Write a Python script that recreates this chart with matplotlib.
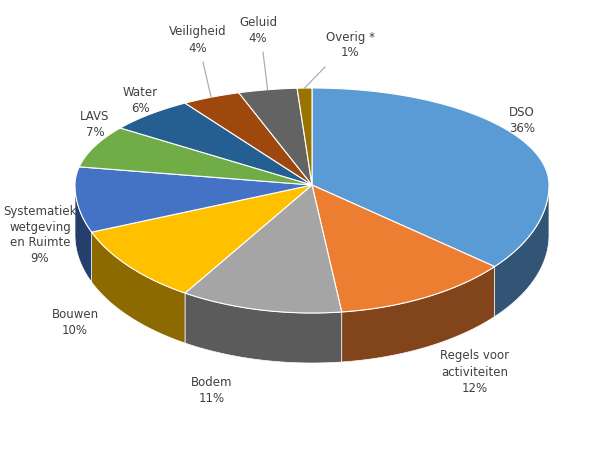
import numpy as np
import matplotlib.pyplot as plt
from matplotlib.patches import Polygon

labels = ["DSO", "Regels voor\nactiviteiten", "Bodem", "Bouwen", "Systematiek\nwetgeving\nen Ruimte",
          "LAVS", "Water", "Veiligheid", "Geluid", "Overig *"]
values = [36, 12, 11, 10, 9, 7, 6, 4, 4, 1]
colors = ["#5B9BD5", "#ED7D31", "#A5A5A5", "#FFC000", "#4472C4",
          "#70AD47", "#255E91", "#9E480E", "#636363", "#997300"]
# label anchor positions (pixels)
label_xy = [(522, 120), (475, 372), (212, 390), (75, 322), (40, 235),
            (95, 125), (140, 100), (198, 40), (258, 30), (350, 45)]


def darker(c, f):
    c = c.lstrip("#")
    rgb = [int(c[i:i + 2], 16) / 255 for i in (0, 2, 4)]
    return tuple(v * f for v in rgb)


cx, cy, rx, ry_back, ry_front, depth = 312, 185, 237, 97, 128, 50

fig = plt.figure(figsize=(6, 4.72), dpi=100)
ax = fig.add_axes([0, 0, 1, 1])
ax.set_xlim(0, 600)
ax.set_ylim(472, 0)
ax.axis("off")


def pt(t, dy=0):
    s = np.sin(np.radians(t))
    ry = ry_back if s > 0 else ry_front
    return cx + rx * np.cos(np.radians(t)), cy - ry * s + dy


total = sum(values)
start = 90.0
wedges = []
for v in values:
    end = start - 360.0 * v / total
    wedges.append((end, start))
    start = end

# side walls (front half only)
for (a0, a1), col in zip(wedges, colors):
    ts = np.linspace(a0, a1, 200)
    ts = ts[np.sin(np.radians(ts)) <= 0]
    if len(ts) < 2:
        continue
    top = [pt(t) for t in ts]
    bot = [pt(t, depth) for t in ts[::-1]]
    ax.add_patch(Polygon(top + bot, closed=True, facecolor=darker(col, 0.55),
                         edgecolor="white", linewidth=0.5, zorder=1))

# top faces
for (a0, a1), col in zip(wedges, colors):
    ts = np.linspace(a0, a1, 200)
    poly = [(cx, cy)] + [pt(t) for t in ts]
    ax.add_patch(Polygon(poly, closed=True, facecolor=col, edgecolor="white",
                         linewidth=0.8, zorder=2))

# labels
for (a0, a1), lab, v, (lx, ly) in zip(wedges, labels, values, label_xy):
    ax.text(lx, ly, f"{lab}\n{v}%", ha="center", va="center", fontsize=8.5,
            color="#404040", zorder=3, linespacing=1.3)
    if v <= 5:
        x, y = pt((a0 + a1) / 2)
        ax.plot([x, lx - (25 if lx > x else -5)], [y, ly + 22], color="#A6A6A6", lw=0.8, zorder=3)

fig.savefig("out.png", dpi=100)
